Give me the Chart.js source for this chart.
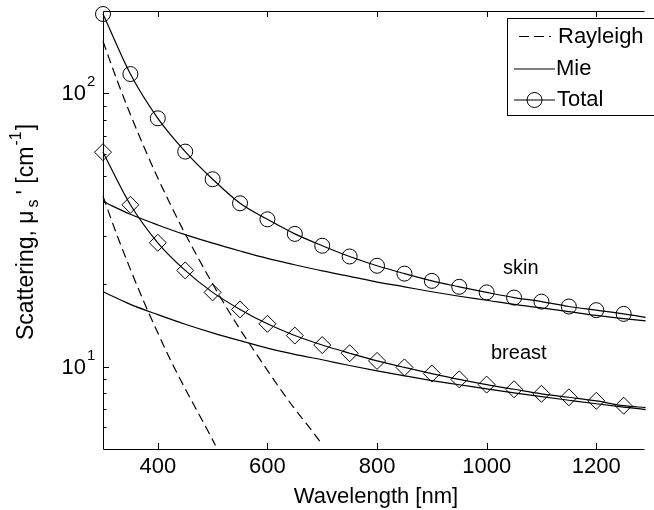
<!DOCTYPE html>
<html>
<head>
<meta charset="utf-8">
<script src="https://cdn.jsdelivr.net/npm/chart.js@4.4.0/dist/chart.umd.min.js"></script>
<style>
  html, body { margin: 0; padding: 0; background: #fff; }
</style>
</head>
<body>
<canvas id="chart" width="654" height="510"></canvas>
<script>
// Values (log y axis, 5 .. 200)
const markerWavelengths = [300,350,400,450,500,550,600,650,700,750,800,850,900,950,1000,1050,1100,1150,1200,1250,1290];
const skinTotal   = [195,117.6,81,61.2,48.5,39.6,34.6,30.6,27.7,25.3,23.4,21.9,20.6,19.6,18.7,17.9,17.3,16.6,16.1,15.6,15.15];
const breastTotal = [60.9,39.1,28.4,22.5,18.7,16.2,14.35,13.0,12.0,11.2,10.5,9.94,9.44,8.99,8.6,8.27,7.96,7.73,7.5,7.2,7.09];

const mieWavelengths = [300,350,400,450,500,550,600,650,700,750,800,850,900,950,1000,1050,1100,1150,1200,1250,1290];
const skinMie   = [40.2,36.1,33.0,30.4,28.3,26.5,24.9,23.6,22.4,21.4,20.4,19.6,18.8,18.1,17.5,16.9,16.4,15.9,15.4,15.0,14.7];
const breastMie = [18.8,16.9,15.5,14.3,13.3,12.45,11.7,11.1,10.6,10.1,9.65,9.26,8.9,8.59,8.29,8.02,7.77,7.54,7.32,7.12,6.97];

const skinRayleighWavelengths = [300,325,350,375,400,425,450,475,500,525,550,575,600,625,650,675,700];
const skinRayleigh = [155,112.5,83.7,63.5,49.0,38.5,30.6,24.7,20.1,16.5,13.7,11.5,9.7,8.2,7.0,6.05,5.2];
const breastRayleighWavelengths = [300,325,350,375,400,425,450,475,500,505];
const breastRayleigh = [42,30.5,22.7,17.2,13.3,10.4,8.3,6.7,5.4,5.15];

const xTicks = [400,600,800,1000,1200];
const yMajor = [10,100];
const yMinor = [6,7,8,9,20,30,40,50,60,70,80,90];

const FONT = '"Liberation Sans", Arial, Helvetica, sans-serif';

function pairs(xs, ys) {
    return xs.map((x, i) => ({x: x, y: ys[i]}));
}

// markers every 50 nm, the last point only carries the line to the edge
function markerRadius(r) {
    return ctx => (ctx.dataIndex === markerWavelengths.length - 1 ? 0 : r);
}

const lineBase = {
    borderColor: '#000',
    borderWidth: 1.2,
    pointRadius: 0,
    fill: false,
    clip: false,
    cubicInterpolationMode: 'monotone'
};

const matlabAxes = {
    id: 'matlabAxes',
    afterDraw(chart) {
        const c = chart.ctx;
        const area = chart.chartArea;
        const xs = chart.scales.x;
        const ys = chart.scales.y;
        c.save();
        c.strokeStyle = '#000';
        c.fillStyle = '#000';
        c.lineWidth = 1;

        // box (right side is cut off in the reference)
        c.beginPath();
        c.moveTo(area.right, area.top + 0.5);
        c.lineTo(area.left + 0.5, area.top + 0.5);
        c.lineTo(area.left + 0.5, area.bottom + 0.5);
        c.lineTo(area.right, area.bottom + 0.5);
        c.stroke();

        // inward ticks
        c.beginPath();
        xTicks.forEach(v => {
            const px = Math.round(xs.getPixelForValue(v)) + 0.5;
            c.moveTo(px, area.bottom);
            c.lineTo(px, area.bottom - 6);
            c.moveTo(px, area.top);
            c.lineTo(px, area.top + 6);
        });
        yMajor.forEach(v => {
            const py = Math.round(ys.getPixelForValue(v)) + 0.5;
            c.moveTo(area.left, py);
            c.lineTo(area.left + 6, py);
        });
        yMinor.forEach(v => {
            const py = Math.round(ys.getPixelForValue(v)) + 0.5;
            c.moveTo(area.left, py);
            c.lineTo(area.left + 3.5, py);
        });
        c.stroke();

        // x tick labels
        c.font = '22px ' + FONT;
        c.textAlign = 'center';
        c.textBaseline = 'middle';
        xTicks.forEach(v => {
            c.fillText(String(v), xs.getPixelForValue(v), area.bottom + 18);
        });

        // y tick labels 10^n
        yMajor.forEach(v => {
            const py = ys.getPixelForValue(v);
            const exp = String(Math.round(Math.log10(v)));
            c.font = '22px ' + FONT;
            c.textAlign = 'right';
            c.textBaseline = 'middle';
            c.fillText('10', area.left - 17, py + 1);
            c.font = '15px ' + FONT;
            c.textAlign = 'left';
            c.fillText(exp, area.left - 16, py - 11);
        });

        // x title
        c.font = '22px ' + FONT;
        c.textAlign = 'center';
        c.textBaseline = 'middle';
        c.fillText('Wavelength [nm]', 376, 497);

        // y title with sub/superscripts, spaced like a TeX label
        const parts = [
            ['Scattering, \u03bc', 23, 0, 3],
            ['s', 16, 7, 5],
            ['\'', 23, 0, 0],
            [' [cm', 23, 0, 1],
            ['-1', 16, -10, 1],
            [']', 23, 0, 0]
        ];
        let total = 0;
        parts.forEach(p => { c.font = p[1] + 'px ' + FONT; total += c.measureText(p[0]).width + p[3]; });
        c.translate(27, 232);
        c.rotate(-Math.PI / 2);
        c.textAlign = 'left';
        let cx = -total / 2;
        parts.forEach(p => {
            c.font = p[1] + 'px ' + FONT;
            c.fillText(p[0], cx, p[2]);
            cx += c.measureText(p[0]).width + p[3];
        });
        c.setTransform(1, 0, 0, 1, 0, 0);

        // curve labels
        c.font = '20px ' + FONT;
        c.textAlign = 'left';
        c.fillText('skin', 503, 268);
        c.fillText('breast', 491, 353);

        // legend
        c.fillStyle = '#fff';
        c.fillRect(507, 18, 160, 97);
        c.strokeStyle = '#000';
        c.strokeRect(507.5, 18.5, 160, 97);
        c.fillStyle = '#000';
        c.font = '22px ' + FONT;
        c.textAlign = 'left';
        c.textBaseline = 'middle';
        const rows = [36.5, 69, 100];
        c.lineWidth = 1.2;
        c.setLineDash([10, 5]);
        c.beginPath();
        c.moveTo(519, rows[0]);
        c.lineTo(551, rows[0]);
        c.stroke();
        c.setLineDash([]);
        c.beginPath();
        c.moveTo(514, rows[1]);
        c.lineTo(555, rows[1]);
        c.moveTo(514, rows[2]);
        c.lineTo(555, rows[2]);
        c.stroke();
        c.lineWidth = 1;
        c.beginPath();
        c.arc(534.5, rows[2], 7.5, 0, Math.PI * 2);
        c.stroke();
        c.fillText('Rayleigh', 558, rows[0]);
        c.fillText('Mie', 556, rows[1]);
        c.fillText('Total', 557, rows[2]);
        c.restore();
    }
};

new Chart(document.getElementById('chart'), {
    type: 'line',
    data: {
        datasets: [
            Object.assign({}, lineBase, {label: 'Rayleigh skin', data: pairs(skinRayleighWavelengths, skinRayleigh), borderDash: [9, 5]}),
            Object.assign({}, lineBase, {label: 'Rayleigh breast', data: pairs(breastRayleighWavelengths, breastRayleigh), borderDash: [9, 5]}),
            Object.assign({}, lineBase, {label: 'Mie skin', data: pairs(mieWavelengths, skinMie)}),
            Object.assign({}, lineBase, {label: 'Mie breast', data: pairs(mieWavelengths, breastMie)}),
            Object.assign({}, lineBase, {
                label: 'Total skin', data: pairs(markerWavelengths, skinTotal),
                pointStyle: 'circle', pointRadius: markerRadius(7.5),
                pointBorderColor: '#000', pointBackgroundColor: 'rgba(0,0,0,0)', pointBorderWidth: 1
            }),
            Object.assign({}, lineBase, {
                label: 'Total breast', data: pairs(markerWavelengths, breastTotal),
                pointStyle: 'rectRot', pointRadius: markerRadius(8.5),
                pointBorderColor: '#000', pointBackgroundColor: 'rgba(0,0,0,0)', pointBorderWidth: 1
            })
        ]
    },
    options: {
        responsive: false,
        animation: false,
        layout: { padding: { left: 103, top: 11, right: 0, bottom: 61 } },
        plugins: { legend: { display: false }, tooltip: { enabled: false } },
        scales: {
            x: { type: 'linear', min: 300, max: 1288, display: false },
            y: { type: 'logarithmic', min: 5, max: 200, display: false }
        }
    },
    plugins: [matlabAxes]
});
</script>
</body>
</html>
